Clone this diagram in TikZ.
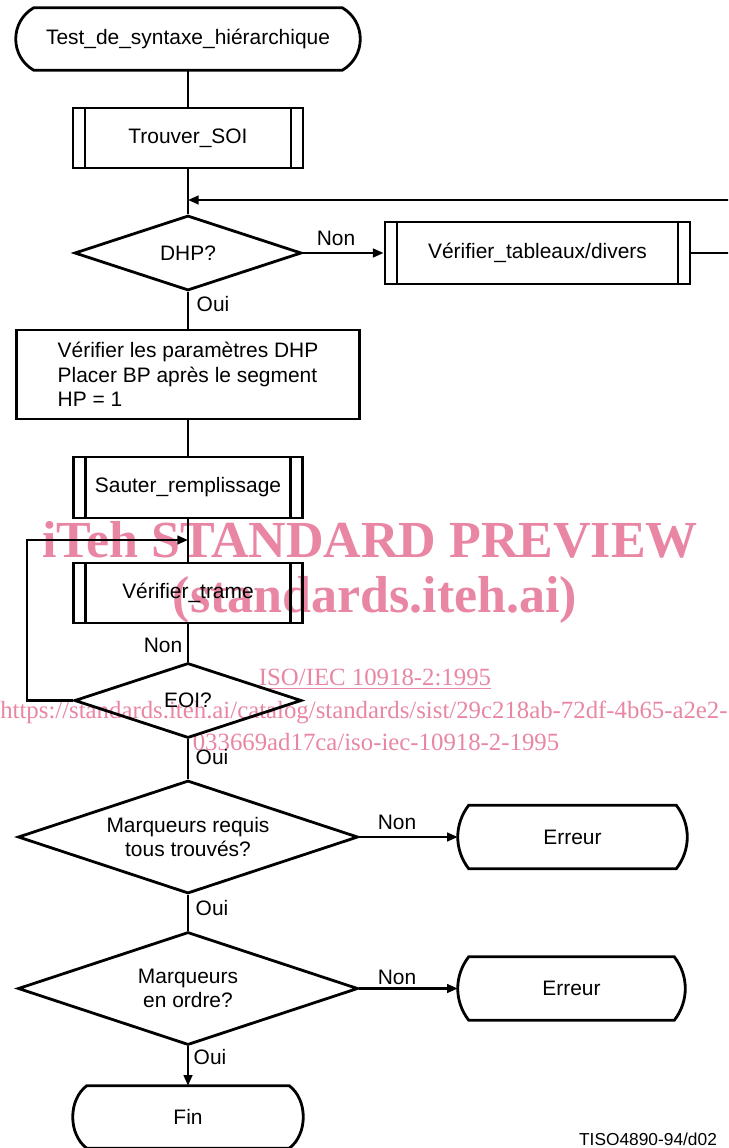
\documentclass[tikz,border=0pt]{standalone}
\usepackage{fontspec}
\setmainfont{Liberation Sans}
\newfontfamily\wmfont{Liberation Serif}
\usetikzlibrary{shapes.geometric,arrows.meta,calc}
\definecolor{wmc}{RGB}{232,134,163}
% outline of a terminal (flat top/bottom, bulging sides) around node #1
\newcommand\termline[3]{%
  \draw[boxline] ($(#1.north west)+(#2,0)$) -- ($(#1.north east)+(-#2,0)$)
    .. controls ($(#1.north east)+(#2/3,#3)$) and ($(#1.south east)+(#2/3,-#3)$) .. ($(#1.south east)+(-#2,0)$)
    -- ($(#1.south west)+(#2,0)$)
    .. controls ($(#1.south west)+(-#2/3,-#3)$) and ($(#1.north west)+(-#2/3,#3)$) .. cycle;}
\begin{document}
\begin{tikzpicture}[x=0.75pt,y=-0.75pt,
  boxline/.style={line width=2.1pt},
  conn/.style={line width=1.7pt},
  arr/.style={conn,-{Triangle[length=8pt,width=6.5pt]}},
  txt/.style={font=\fontsize{15.7}{18.5}\selectfont},
  term/.style={txt,rectangle,inner sep=0pt},
  sub/.style={txt,rectangle,draw,boxline,inner sep=0pt,
    path picture={\draw[line width=1.6pt]
      ([xshift=9pt]path picture bounding box.north west) -- ([xshift=9pt]path picture bounding box.south west)
      ([xshift=-9pt]path picture bounding box.north east) -- ([xshift=-9pt]path picture bounding box.south east);}},
  proc/.style={txt,rectangle,draw,boxline,align=left,inner sep=0pt},
  dec/.style={txt,diamond,draw,boxline,aspect=3,inner sep=0pt,align=center},
  lab/.style={txt,inner sep=0pt},
  wm/.style={text=wmc,inner sep=0pt},
  wmbig/.style={wm,font=\wmfont\bfseries\fontsize{39}{40}\selectfont},
  wmsmall/.style={wm,font=\wmfont\fontsize{18.6}{20}\selectfont}
]
\clip (0,0) rectangle (728,1148);

% watermark (underneath)
\node[wmbig] (wm1) at (370,540) {iTeh STANDARD PREVIEW};
\node[wmbig] (wm2) at (375,600) {(standards.iteh.ai)};
\node[wmsmall] (wm3) at (375,679) {\underline{ISO/IEC 10918-2:1995}};
\node[wmsmall,anchor=west] (wm4) at (0,712) {https://standards.iteh.ai/catalog/standards/sist/29c218ab-72df-4b65-a2e2-};
\node[wmsmall] (wm5) at (376,742) {033669ad17ca/iso-iec-10918-2-1995};

% nodes
\node[term,minimum width=258pt,minimum height=46.5pt] (start) at (188,39) {Test\_de\_syntaxe\_hiérarchique};
\termline{start}{18}{14}
\node[sub,minimum width=172.5pt,minimum height=45pt] (trouver) at (188,138) {Trouver\_SOI};
\node[dec,minimum width=170.25pt,minimum height=56.25pt] (dhp) at (188,253) {DHP?};
\node[sub,minimum width=228.75pt,minimum height=46.5pt] (vt) at (537.5,253) {Vérifier\_tableaux/divers};
\node[proc,minimum width=257.25pt,minimum height=66.75pt] (proc) at (188,374.5)
  {Vérifier les paramètres DHP\\Placer BP après le segment\\HP = 1};
\node[sub,minimum width=171.75pt,minimum height=45.75pt] (sauter) at (188,487.5) {Sauter\_remplissage};
\node[sub,minimum width=171.75pt,minimum height=45pt] (vtrame) at (188,593) {Vérifier\_trame};
\node[dec,minimum width=170.25pt,minimum height=56.25pt] (eoi) at (188,700.5) {EOI?};
\node[dec,minimum width=255pt,minimum height=84.75pt] (mreq) at (188,837) {Marqueurs requis\\tous trouvés?};
\node[term,minimum width=171.75pt,minimum height=47.25pt] (err1) at (572.5,837) {Erreur};
\termline{err1}{11}{19}
\node[dec,minimum width=255pt,minimum height=84.75pt] (mord) at (188,988.5) {Marqueurs\\en ordre?};
\node[term,minimum width=170.25pt,minimum height=47.25pt] (err2) at (571.5,988.5) {Erreur};
\termline{err2}{11}{19}
\node[term,minimum width=172.5pt,minimum height=46.5pt] (fin) at (188,1117) {Fin};
\termline{fin}{14}{14}

% labels
\node[lab] (l1) at (336,238) {Non};
\node[lab] (l2) at (213,304) {Oui};
\node[lab] (l3) at (163,645) {Non};
\node[lab] (l4) at (212,757) {Oui};
\node[lab] (l5) at (397,822) {Non};
\node[lab] (l6) at (212,908) {Oui};
\node[lab] (l7) at (397,977) {Non};
\node[lab] (l8) at (210,1057) {Oui};
\node[inner sep=0pt,font=\fontsize{13}{15}\selectfont] (tiso) at (648,1139) {TISO4890-94/d02};

% junctions and free ends
\coordinate (j1) at (188,200);
\coordinate (rr) at (745,200);
\coordinate (j2) at (188,540);
\coordinate (lp) at (27,540);

% connectors
\draw[conn] (start.south) -- (trouver.north);
\draw[conn] (trouver.south) -- (dhp.north);
\draw[arr] (vt.east) -| (rr) -- (j1);
\draw[arr] (dhp.east) -- (vt.west);
\draw[conn] (dhp.south) -- (proc.north);
\draw[conn] (proc.south) -- (sauter.north);
\draw[conn] (sauter.south) -- (vtrame.north);
\draw[conn] (vtrame.south) -- (eoi.north);
\draw[arr] (eoi.west) -| (lp) -- (j2);
\draw[conn] (eoi.south) -- (mreq.north);
\draw[arr] (mreq.east) -- (err1.west);
\draw[conn] (mreq.south) -- (mord.north);
\draw[arr] (mord.east) -- (err2.west);
\draw[arr] (mord.south) -- (fin.north);
\end{tikzpicture}
\end{document}
